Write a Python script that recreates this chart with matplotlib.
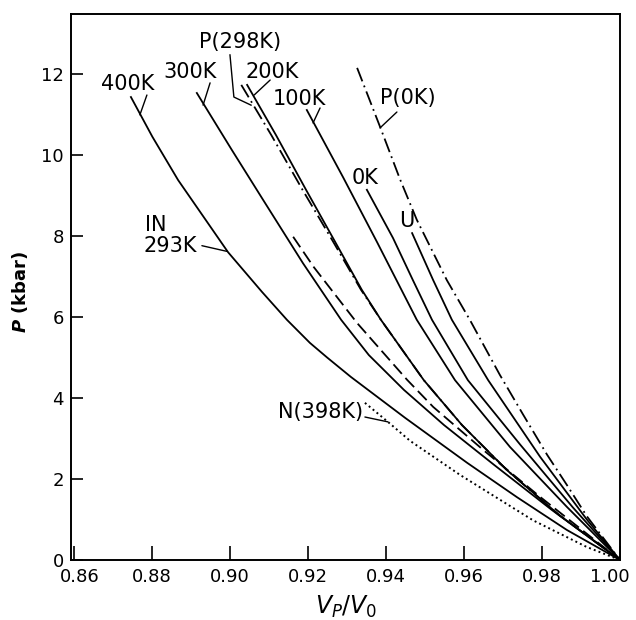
import matplotlib
matplotlib.use("Agg")
import matplotlib.pyplot as plt
import matplotlib.transforms as mtransforms

# isotherms: V_P/V_0 and P (kbar)
x_400 = [0.8746, 0.8801, 0.8867, 0.8995, 0.9082, 0.9146, 0.9205, 0.9249, 0.9310, 0.9449, 0.9608,
         0.9736, 0.9864, 1.0]
p_400 = [11.43, 10.45, 9.38, 7.60, 6.62, 5.93, 5.36, 5.00, 4.52, 3.51, 2.40, 1.55, 0.74, 0.0]

x_300 = [0.8915, 0.9005, 0.9085, 0.9187, 0.9285, 0.9356, 0.9446, 0.9549, 0.9677, 0.9826, 1.0]
p_300 = [11.53, 10.12, 8.89, 7.33, 5.93, 5.06, 4.20, 3.33, 2.35, 1.23, 0.0]

x_dash = [0.9162, 0.9215, 0.9326, 0.9454, 0.9521, 0.9649, 0.9795, 1.0]
p_dash = [7.98, 7.23, 5.85, 4.45, 3.78, 2.72, 1.56, 0.0]

x_200 = [0.9044, 0.9118, 0.9195, 0.9267, 0.9338, 0.9387, 0.9497, 0.9595, 0.9710, 0.9844, 1.0]
p_200 = [11.73, 10.49, 9.14, 7.90, 6.67, 5.93, 4.44, 3.33, 2.22, 1.11, 0.0]

x_p298 = [0.9029, 0.9106, 0.9186, 0.9262, 0.9336, 0.9387, 0.9497, 0.9595, 0.9710, 0.9844, 1.0]
p_p298 = [11.73, 10.49, 9.14, 7.90, 6.67, 5.93, 4.44, 3.33, 2.22, 1.11, 0.0]

x_100 = [0.9197, 0.9290, 0.9377, 0.9479, 0.9577, 0.9718, 0.9864, 1.0]
p_100 = [11.11, 9.45, 7.85, 5.93, 4.44, 2.79, 1.31, 0.0]

x_0 = [0.9351, 0.9418, 0.9469, 0.9518, 0.9610, 0.9744, 0.9879, 1.0]
p_0 = [9.14, 7.95, 6.91, 5.93, 4.44, 2.85, 1.30, 0.0]

x_u = [0.9467, 0.9521, 0.9569, 0.9662, 0.9795, 0.9915, 1.0]
p_u = [8.07, 6.91, 5.93, 4.44, 2.55, 1.00, 0.0]

x_p0 = [0.9326, 0.9385, 0.9436, 0.9479, 0.9556, 0.9615, 0.9692, 0.9751, 0.9813, 0.9864, 0.9915, 1.0]
p_p0 = [12.15, 10.69, 9.40, 8.40, 6.91, 5.93, 4.57, 3.60, 2.60, 1.85, 1.08, 0.0]

x_n398 = [0.9346, 0.9405, 0.9462, 0.9590, 0.9777, 0.9915, 1.0]
p_n398 = [3.88, 3.41, 2.94, 2.10, 0.98, 0.32, 0.0]

x_ticks = [0.86, 0.88, 0.90, 0.92, 0.94, 0.96, 0.98, 1.00]
y_ticks = [0, 2, 4, 6, 8, 10, 12]

plt.rcParams['font.family'] = ['DejaVu Sans']

fig = plt.figure(figsize=(6.36, 6.20), dpi=100)
ax = fig.add_axes([0.1116, 0.0968, 0.8632, 0.8806])

lw = 1.3
dashdot = (8, 2.5, 1, 2.5)
ax.plot(x_400, p_400, color='black', lw=lw)
ax.plot(x_300, p_300, color='black', lw=lw)
ax.plot(x_dash, p_dash, color='black', lw=lw, dashes=(7, 3))
ax.plot(x_p298, p_p298, color='black', lw=lw, dashes=dashdot)
ax.plot(x_200, p_200, color='black', lw=lw)
ax.plot(x_100, p_100, color='black', lw=lw)
ax.plot(x_0, p_0, color='black', lw=lw)
ax.plot(x_u, p_u, color='black', lw=lw)
ax.plot(x_p0, p_p0, color='black', lw=lw, dashes=dashdot)
ax.plot(x_n398, p_n398, color='black', lw=1.4, dashes=(1, 1.6))

ax.set_xlim(0.85923, 1.0)
ax.set_ylim(0, 13.48)
ax.set_xticks(x_ticks)
ax.set_xticklabels(['%.2f' % v for v in x_ticks])
ax.set_yticks(y_ticks)
ax.tick_params(axis='x', direction='in', length=10, width=1.2, pad=6, labelsize=13)
ax.tick_params(axis='y', direction='in', length=8.5, width=1.2, pad=5, labelsize=13)
for s in ax.spines.values():
    s.set_linewidth(1.4)

# nudge the end labels on the x axis like the original
xlabels = ax.get_xticklabels()
xlabels[0].set_transform(xlabels[0].get_transform() +
                         mtransforms.ScaledTranslation(6 / 100, 0, fig.dpi_scale_trans))
xlabels[-1].set_transform(xlabels[-1].get_transform() +
                          mtransforms.ScaledTranslation(-10 / 100, 0, fig.dpi_scale_trans))

# curve labels with leader lines
fs = 15
lead = dict(arrowstyle='-', lw=1.0, color='black', shrinkA=0, shrinkB=0)
ax.text(0.8738, 11.75, '400K', fontsize=fs, ha='center', va='center')
ax.annotate('', xy=(0.8769, 10.99), xytext=(0.8787, 11.48), arrowprops=lead)
ax.text(0.8897, 12.05, '300K', fontsize=fs, ha='center', va='center')
ax.annotate('', xy=(0.8931, 11.23), xytext=(0.8949, 11.78), arrowprops=lead)
ax.text(0.9026, 12.79, 'P(298K)', fontsize=fs, ha='center', va='center')
ax.plot([0.9000, 0.9010, 0.9054], [12.47, 11.43, 11.23], color='black', lw=1.0)
ax.text(0.9108, 12.05, '200K', fontsize=fs, ha='center', va='center')
ax.annotate('', xy=(0.9062, 11.48), xytext=(0.9103, 11.85), arrowprops=lead)
ax.text(0.9179, 11.38, '100K', fontsize=fs, ha='center', va='center')
ax.annotate('', xy=(0.9213, 10.79), xytext=(0.9231, 11.16), arrowprops=lead)
ax.text(0.9456, 11.41, 'P(0K)', fontsize=fs, ha='center', va='center')
ax.annotate('', xy=(0.9385, 10.67), xytext=(0.9428, 11.06), arrowprops=lead)
ax.text(0.9346, 9.43, '0K', fontsize=fs, ha='center', va='center')
ax.text(0.9454, 8.37, 'U', fontsize=fs, ha='center', va='center')
ax.text(0.8783, 8.27, 'IN', fontsize=fs, ha='left', va='center')
ax.text(0.8779, 7.76, '293K', fontsize=fs, ha='left', va='center')
ax.annotate('', xy=(0.8992, 7.62), xytext=(0.8928, 7.76), arrowprops=lead)
ax.text(0.9233, 3.65, 'N(398K)', fontsize=fs, ha='center', va='center')
ax.annotate('', xy=(0.9405, 3.41), xytext=(0.9346, 3.53), arrowprops=lead)

fig.text(346 / 636, 1 - 607 / 620, r'$V_P/V_0$', fontsize=17, ha='center', va='center')
fig.text(20 / 636, 1 - 292 / 620, r'$\mathbfit{P}$ (kbar)', fontsize=13, fontweight='bold',
         rotation=90, ha='center', va='center')

fig.savefig('out.png', dpi=100)
